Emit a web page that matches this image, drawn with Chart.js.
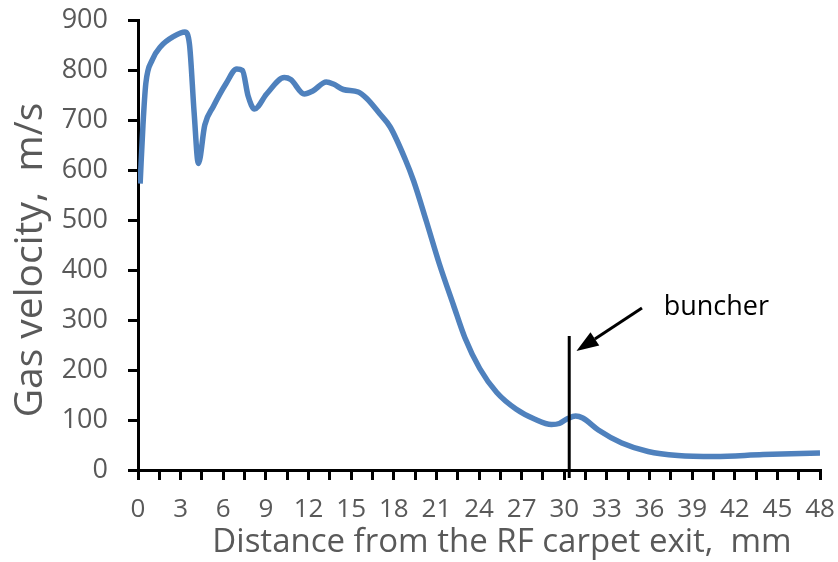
<!DOCTYPE html>
<html>
<head>
<meta charset="utf-8">
<script src="https://cdn.jsdelivr.net/npm/chart.js@4.4.1/dist/chart.umd.min.js"></script>
<style>
  html, body { margin: 0; padding: 0; background: #fff; }
  #wrap { width: 838px; height: 562px; }
</style>
</head>
<body>
<div id="wrap"><canvas id="chart" width="838" height="562"></canvas></div>
<script>
// Gas velocity profile along the beam axis
const distanceMm = [0.15, 0.35, 0.55, 1.0, 1.6, 2.5, 3.3, 3.62, 3.95, 4.25, 4.7, 5.3, 6.2, 6.95,
    7.35, 7.75, 8.2, 9.05, 10.3, 10.75, 11.7, 12.3, 13.25, 13.75, 14.45, 15.5, 16.1, 17.0, 17.75,
    18.8, 19.4, 20.3, 21.2, 22.2, 23.0, 24.05, 25.25, 26.6, 27.9, 29.1, 29.65, 30.25, 30.8, 31.3,
    32.4, 34.05, 35.9, 38.0, 40.6, 44.0, 48.0];
const velocity = [573, 690, 773, 820, 847, 867, 876, 852, 715, 613, 690, 727, 773, 802,
    799, 748, 722, 752, 785, 781, 752, 758, 776, 772, 761, 756, 743, 713, 686,
    622, 578, 497, 413, 330, 265, 203, 155, 122, 102, 91, 93, 103, 108, 104,
    80, 54, 37, 29, 27, 31, 34];

// Buncher position marker and its label arrow (data units)
const buncherX = 30.35;
const buncherSpan = [-16, 268];
const arrowFrom = [35.47, 324];
const arrowTo = [30.86, 238];
const buncherLabel = 'buncher';
const buncherLabelAt = [37.0, 311];

const xTitle = 'Distance from the RF carpet exit,  mm';
const yTitle = 'Gas velocity,  m/s';

const FONT = "'Open Sans', 'Noto Sans', sans-serif";
const GREY = '#595959';

const overlay = {
    id: 'overlay',
    afterDatasetsDraw(chart) {
        const { ctx, scales: { x, y } } = chart;
        ctx.save();
        ctx.strokeStyle = '#000';
        ctx.fillStyle = '#000';
        ctx.lineWidth = 3;

        // vertical buncher line
        const bx = x.getPixelForValue(buncherX);
        ctx.beginPath();
        ctx.moveTo(bx, y.getPixelForValue(buncherSpan[0]));
        ctx.lineTo(bx, y.getPixelForValue(buncherSpan[1]));
        ctx.stroke();

        // arrow pointing at the buncher
        const x0 = x.getPixelForValue(arrowFrom[0]), y0 = y.getPixelForValue(arrowFrom[1]);
        const x1 = x.getPixelForValue(arrowTo[0]), y1 = y.getPixelForValue(arrowTo[1]);
        const ang = Math.atan2(y1 - y0, x1 - x0);
        const headLen = 22, headHalf = 8;
        const baseX = x1 - headLen * Math.cos(ang), baseY = y1 - headLen * Math.sin(ang);
        ctx.beginPath();
        ctx.moveTo(x0, y0);
        ctx.lineTo(baseX, baseY);
        ctx.stroke();
        ctx.beginPath();
        ctx.moveTo(x1, y1);
        ctx.lineTo(baseX + headHalf * Math.sin(ang), baseY - headHalf * Math.cos(ang));
        ctx.lineTo(baseX - headHalf * Math.sin(ang), baseY + headHalf * Math.cos(ang));
        ctx.closePath();
        ctx.fill();

        ctx.font = `27px ${FONT}`;
        ctx.textAlign = 'left';
        ctx.textBaseline = 'alphabetic';
        ctx.fillText(buncherLabel, x.getPixelForValue(buncherLabelAt[0]), y.getPixelForValue(buncherLabelAt[1]));

        // axis titles
        ctx.fillStyle = GREY;
        ctx.textAlign = 'center';
        ctx.font = `33px ${FONT}`;
        ctx.fillText(xTitle, 502, 552);
        ctx.translate(42, 260);
        ctx.rotate(-Math.PI / 2);
        ctx.font = `39px ${FONT}`;
        ctx.fillText(yTitle, 0, 0);
        ctx.restore();
    }
};

const axisGrid = {
    drawOnChartArea: false,
    drawTicks: true,
    tickLength: 10,
    color: '#000',
    lineWidth: 3
};

// fixed axis sizes; edge labels must not push the plot area inwards
function fixAxis(scale, size) {
    if (scale.isHorizontal()) scale.height = size;
    else scale.width = size;
    scale.paddingTop = scale.paddingBottom = scale.paddingLeft = scale.paddingRight = 0;
}

new Chart(document.getElementById('chart'), {
    type: 'line',
    data: {
        datasets: [{
            data: distanceMm.map((d, i) => ({ x: d, y: velocity[i] })),
            borderColor: '#4F81BD',
            borderWidth: 5.5,
            pointRadius: 0,
            fill: false,
            cubicInterpolationMode: 'monotone'
        }]
    },
    options: {
        responsive: false,
        animation: false,
        layout: { padding: { left: 0, right: 18, top: 20, bottom: 0 } },
        plugins: {
            legend: { display: false },
            tooltip: { enabled: false }
        },
        scales: {
            x: {
                type: 'linear',
                min: 0,
                max: 48,
                afterFit: s => fixAxis(s, 92),
                ticks: {
                    stepSize: 1.5,
                    autoSkip: false,
                    maxRotation: 0,
                    padding: 14,
                    color: GREY,
                    font: { family: FONT, size: 26 },
                    callback: v => (v % 3 === 0 ? String(v) : '')
                },
                grid: axisGrid,
                border: { color: '#000', width: 3 }
            },
            y: {
                min: 0,
                max: 900,
                afterFit: s => fixAxis(s, 138),
                ticks: {
                    stepSize: 100,
                    padding: 20,
                    color: GREY,
                    font: { family: FONT, size: 27 }
                },
                grid: axisGrid,
                border: { color: '#000', width: 3 }
            }
        }
    },
    plugins: [overlay]
});
</script>
</body>
</html>
